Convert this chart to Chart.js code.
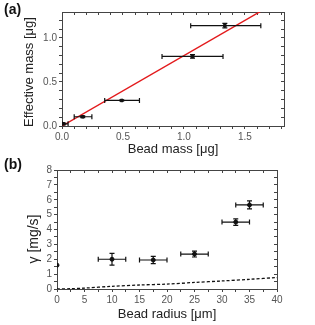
<!DOCTYPE html>
<html>
<head>
<meta charset="utf-8">
<script src="https://cdn.jsdelivr.net/npm/chart.js@4.4.1/dist/chart.umd.min.js"></script>
<style>
  body { margin: 0; background: #fff; }
  #wrap { position: relative; width: 315px; height: 325px; font-family: "Liberation Sans", Arial, sans-serif; }
  canvas { position: absolute; left: 0; }
  .panel { position: absolute; font-weight: bold; font-size: 14px; color: #111; }
  .ytitle { position: absolute; font-size: 13px; color: #222; white-space: nowrap; transform: translate(-50%, -50%) rotate(-90deg); }
</style>
</head>
<body>
<div id="wrap">
  <canvas id="massChart" width="315" height="160" style="top:0"></canvas>
  <canvas id="radiusChart" width="315" height="165" style="top:160px"></canvas>
  <div class="panel" style="left:4px; top:1px">(a)</div>
  <div class="panel" style="left:4px; top:156px">(b)</div>
  <div class="ytitle" style="left:28px; top:72px">Effective mass [μg]</div>
  <div class="ytitle" style="left:33px; top:239px; font-size:14px">γ [mg/s]</div>
</div>
<script>
// (a) effective mass vs bead mass
const beadMass = [0.01, 0.17, 0.49, 1.07, 1.335];
const effMass = [0.025, 0.105, 0.29, 0.79, 1.14];
const beadMassLo = [0.0, 0.10, 0.35, 0.82, 1.055];
const beadMassHi = [0.05, 0.245, 0.635, 1.32, 1.63];
const effMassErr = [0.012, 0.01, 0.006, 0.02, 0.025];
const fitX = [0, 1.7];
const fitY = [0, 1.36];

// (b) gamma vs bead radius
const radius = [0, 10, 17.5, 25, 32.5, 35];
const gamma = [1.6, 2.0, 1.95, 2.35, 4.5, 5.65];
const radiusErr = [0, 2.5, 2.5, 2.5, 2.5, 2.5];
const gammaErr = [0, 0.4, 0.25, 0.2, 0.22, 0.27];
const modelR = [0, 2.5, 5, 10, 15, 20, 25, 30, 35, 40];
const modelGamma = [0, 0.02, 0.06, 0.18, 0.27, 0.33, 0.44, 0.54, 0.65, 0.77];

const FONT = 'Liberation Sans';
const axisColor = '#444';

function pairs(xs, ys) {
  return xs.map((x, i) => ({x: x, y: ys[i]}));
}

function errorBars(xs, ys, xLo, xHi, yLo, yHi) {
  return {
    id: 'errorBars',
    afterDatasetsDraw(chart) {
      const {ctx, scales: {x, y}, chartArea} = chart;
      ctx.save();
      ctx.beginPath();
      ctx.rect(chartArea.left, chartArea.top, chartArea.right - chartArea.left, chartArea.bottom - chartArea.top);
      ctx.clip();
      ctx.strokeStyle = '#111';
      ctx.lineWidth = 1.2;
      const cap = 2.5;
      xs.forEach((v, i) => {
        const px = x.getPixelForValue(v);
        const py = y.getPixelForValue(ys[i]);
        const l = x.getPixelForValue(xLo[i]);
        const r = x.getPixelForValue(xHi[i]);
        const t = y.getPixelForValue(yHi[i]);
        const b = y.getPixelForValue(yLo[i]);
        ctx.beginPath();
        if (r - l > 0.5) {
          ctx.moveTo(l, py); ctx.lineTo(r, py);
          ctx.moveTo(l, py - cap); ctx.lineTo(l, py + cap);
          ctx.moveTo(r, py - cap); ctx.lineTo(r, py + cap);
        }
        if (b - t > 0.5) {
          ctx.moveTo(px, t); ctx.lineTo(px, b);
          ctx.moveTo(px - cap, t); ctx.lineTo(px + cap, t);
          ctx.moveTo(px - cap, b); ctx.lineTo(px + cap, b);
        }
        ctx.stroke();
      });
      ctx.restore();
    }
  };
}

function near(v, step) {
  return Math.abs(v / step - Math.round(v / step)) < 1e-6;
}

function mainAxis(min, max, step, labelStep, digits, title, fitSize, isX) {
  return {
    type: 'linear',
    position: isX ? 'bottom' : 'left',
    min: min, max: max,
    border: {color: axisColor, width: 1},
    grid: {drawOnChartArea: false, tickLength: 3, color: axisColor, tickColor: axisColor},
    ticks: {
      stepSize: step,
      autoSkip: false,
      includeBounds: false,
      maxRotation: 0,
      padding: 2,
      color: '#555',
      font: {family: FONT, size: 10},
      callback: (v) => near(v, labelStep) ? Number(v).toFixed(digits) : ''
    },
    title: isX ? {display: true, text: title, color: '#222', font: {family: FONT, size: 13}, padding: {top: 0, bottom: 3}} : {display: false},
    afterFit: (s) => { if (isX) s.height = fitSize; else s.width = fitSize; }
  };
}

function mirrorAxis(min, max, step, isX) {
  return {
    type: 'linear',
    position: isX ? 'top' : 'right',
    min: min, max: max,
    border: {color: axisColor, width: 1},
    grid: {drawOnChartArea: false, tickLength: -3, color: axisColor, tickColor: axisColor},
    ticks: {stepSize: step, autoSkip: false, includeBounds: false, display: false},
    afterFit: (s) => { if (isX) s.height = 0; else s.width = 0; }
  };
}

Chart.defaults.font.family = FONT;
Chart.defaults.animation = false;

new Chart(document.getElementById('massChart'), {
  type: 'scatter',
  data: {
    datasets: [
      {
        type: 'line',
        data: pairs(fitX, fitY),
        borderColor: '#e31a1c',
        borderWidth: 1.4,
        pointRadius: 0,
        fill: false
      },
      {
        data: pairs(beadMass, effMass),
        backgroundColor: '#111',
        borderColor: '#111',
        pointStyle: 'rect',
        pointRadius: 1.8,
        clip: 0
      }
    ]
  },
  options: {
    responsive: false,
    layout: {padding: {top: 12, right: 31, left: 0, bottom: 0}},
    plugins: {legend: {display: false}, tooltip: {enabled: false}},
    scales: {
      x: mainAxis(0, 1.82, 0.1, 0.5, 1, 'Bead mass [μg]', 34, true),
      y: mainAxis(0, 1.295, 0.1, 0.5, 1, '', 62, false),
      x2: mirrorAxis(0, 1.82, 0.1, true),
      y2: mirrorAxis(0, 1.295, 0.1, false)
    }
  },
  plugins: [errorBars(beadMass, effMass, beadMassLo, beadMassHi,
    effMass.map((v, i) => v - effMassErr[i]), effMass.map((v, i) => v + effMassErr[i]))]
});

new Chart(document.getElementById('radiusChart'), {
  type: 'scatter',
  data: {
    datasets: [
      {
        type: 'line',
        data: pairs(modelR, modelGamma),
        borderColor: '#111',
        borderWidth: 1.3,
        borderDash: [3, 2],
        pointRadius: 0,
        tension: 0.3,
        fill: false
      },
      {
        data: pairs(radius, gamma),
        backgroundColor: '#111',
        borderColor: '#111',
        pointRadius: 2,
        clip: 0
      }
    ]
  },
  options: {
    responsive: false,
    layout: {padding: {top: 10, right: 38, left: 0, bottom: 0}},
    plugins: {legend: {display: false}, tooltip: {enabled: false}},
    scales: {
      x: mainAxis(0, 40, 2.5, 5, 0, 'Bead radius [μm]', 36, true),
      y: mainAxis(0, 8, 0.5, 1, 0, '', 57, false),
      x2: mirrorAxis(0, 40, 2.5, true),
      y2: mirrorAxis(0, 8, 0.5, false)
    }
  },
  plugins: [errorBars(radius, gamma,
    radius.map((v, i) => v - radiusErr[i]), radius.map((v, i) => v + radiusErr[i]),
    gamma.map((v, i) => v - gammaErr[i]), gamma.map((v, i) => v + gammaErr[i]))]
});
</script>
</body>
</html>
